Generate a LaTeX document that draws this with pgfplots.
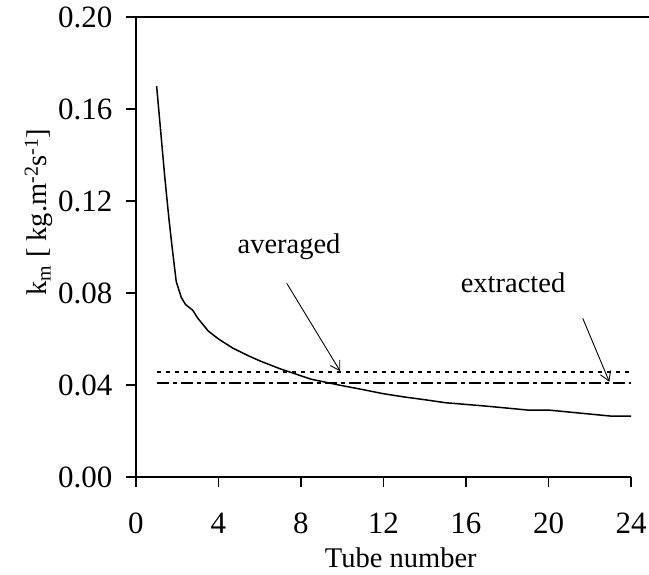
\documentclass[border=0pt]{standalone}
\usepackage{fontspec}
\setmainfont{Liberation Serif}
\usepackage{pgfplots}
\usetikzlibrary{arrows.meta}
\pgfplotsset{compat=1.18}
\begin{document}
\fontsize{28.5}{34}\selectfont
\begin{tikzpicture}
\begin{axis}[
  scale only axis,
  width=495pt, height=460pt,
  xmin=0, xmax=24, ymin=0, ymax=0.20,
  axis lines*=left,
  axis line style={line width=2pt},
  tick style={line width=1.6pt, black},
  tick align=outside,
  major tick length=10pt,
  xtick={0,4,...,24},
  ytick={0,0.04,...,0.20},
  /pgf/number format/assume math mode=true,
  tick label style={font=\fontsize{31}{36}\selectfont},
  yticklabel style={/pgf/number format/fixed, /pgf/number format/precision=2, /pgf/number format/fixed zerofill, anchor=east, xshift=-4pt},
  xticklabel style={anchor=center, yshift=-36pt},
  scaled y ticks=false,
  xlabel={Tube number},
  xlabel style={at={(axis description cs:0.535,-0.196)}, anchor=base},
  ylabel={k\textsubscript{m} [ kg.m\textsuperscript{-2}s\textsuperscript{-1}]},
  ylabel style={at={(axis description cs:-0.180,0.576)}, anchor=base},
  clip=false,
]
\addplot[black, line width=1.5pt, no markers] coordinates {
(1,0.170) (1.15,0.155) (1.4,0.130) (1.6,0.112) (1.75,0.100) (1.95,0.085)
(2.2,0.078) (2.4,0.0750) (2.75,0.0725) (3,0.0690) (3.5,0.0635) (4,0.0600)
(4.7,0.0560) (5.5,0.0525) (6,0.0505) (7,0.0470) (7.5,0.0455) (8.5,0.0425)
(10,0.0397) (11,0.0380) (12,0.0362) (13,0.0348) (14,0.0336) (15,0.0323)
(17,0.0308) (19,0.0291) (20,0.0291) (23,0.0265) (24,0.0265)
};
\addplot[black, line width=2.2pt, dash pattern=on 4pt off 5pt] coordinates {(1,0.0455) (24,0.0455)};
\addplot[black, line width=2.2pt, dash pattern=on 12pt off 4pt on 4pt off 4pt] coordinates {(1,0.0410) (24,0.0410)};
\draw[line width=1.6pt] (axis cs:0,0.2) -- (axis cs:24.9,0.2);
\draw[line width=0.9pt, -{Straight Barb[length=9pt,width=11pt]}] (axis cs:7.31,0.0842) -- (axis cs:9.9,0.0460);
\draw[line width=0.9pt, -{Straight Barb[length=9pt,width=11pt]}] (axis cs:21.66,0.069) -- (axis cs:22.95,0.0414);
\node at (axis cs:7.42,0.100) {averaged};
\node at (axis cs:18.28,0.0843) {extracted};
\coordinate (BL) at (rel axis cs:0,0);
\end{axis}
\pgfresetboundingbox
\path ([shift={(-136pt,-98pt)}]BL) rectangle ([shift={(513pt,477pt)}]BL);
\end{tikzpicture}
\end{document}
